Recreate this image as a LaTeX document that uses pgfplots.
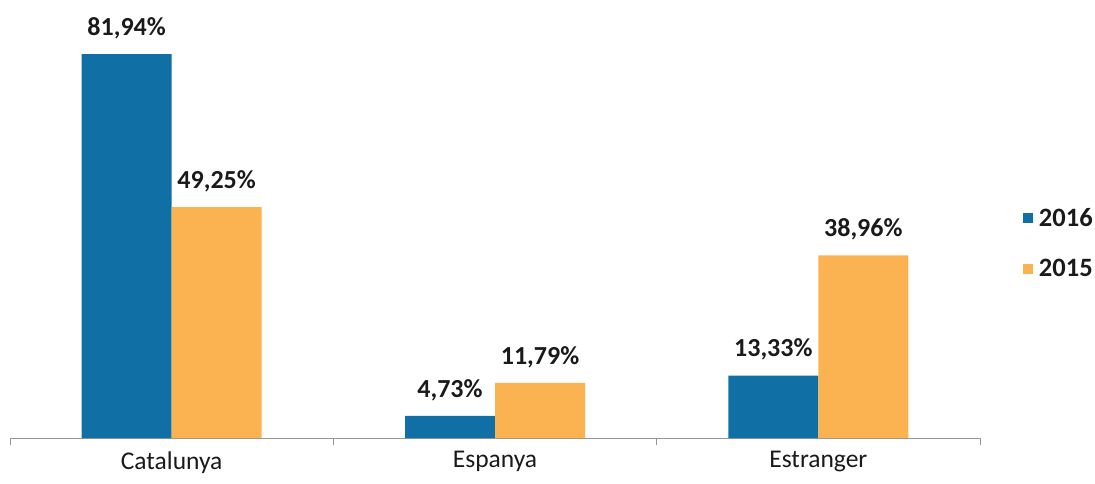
\documentclass[border=0pt]{standalone}
\usepackage{pgfplots}
\pgfplotsset{compat=1.18}
\usepackage{fontspec}
\setmainfont{Carlito}
\definecolor{cblue}{RGB}{16,111,164}
\definecolor{corange}{RGB}{251,178,80}
\definecolor{ctext}{RGB}{26,26,26}
\definecolor{caxis}{RGB}{150,150,150}
\begin{document}
\begin{tikzpicture}[x=1pt,y=1pt]
\useasboundingbox (0,0) rectangle (1095,483);
\begin{axis}[
  at={(10pt,45pt)}, anchor=south west,
  scale only axis, width=970pt, height=421.7pt,
  xmin=-0.5, xmax=2.5, ymin=0, ymax=90,
  ybar=0pt, bar width=90pt,
  axis y line=none,
  axis x line*=bottom,
  axis line style={caxis,-},
  xtick={0,1,2},
  xticklabels={Catalunya,Espanya,Estranger},
  major tick length=0pt,
  minor xtick={-0.5,0.5,1.5,2.5},
  minor tick length=7pt,
  xtick align=outside,
  minor tick style={caxis, line width=0.8pt},
  xticklabel style={font=\fontsize{25.5}{30}\selectfont, text=ctext, yshift=-10pt},
  point meta=explicit symbolic,
  nodes near coords,
  every node near coord/.append style={font=\bfseries\fontsize{26}{30}\selectfont, text=ctext, inner sep=0pt, yshift=15pt},
  clip=false,
  legend style={at={(1.041,0.462)}, anchor=west, draw=none, fill=none,
    font=\bfseries\fontsize{26.5}{30}\selectfont, text=ctext, row sep=28pt,
    /tikz/every odd column/.append style={column sep=4pt}},
  legend cell align=left,
  legend image code/.code={\fill (0pt,-5pt) rectangle (10pt,5pt);},
]
\addplot[fill=cblue, draw=none] coordinates {
  (0,81.94) [81,94\%]
  (1,4.73) [4,73\%]
  (2,13.33) [13,33\%]
};
\addplot[fill=corange, draw=none] coordinates {
  (0,49.25) [49,25\%]
  (1,11.79) [11,79\%]
  (2,38.96) [38,96\%]
};
\legend{2016,2015}
\end{axis}
\end{tikzpicture}
\end{document}
